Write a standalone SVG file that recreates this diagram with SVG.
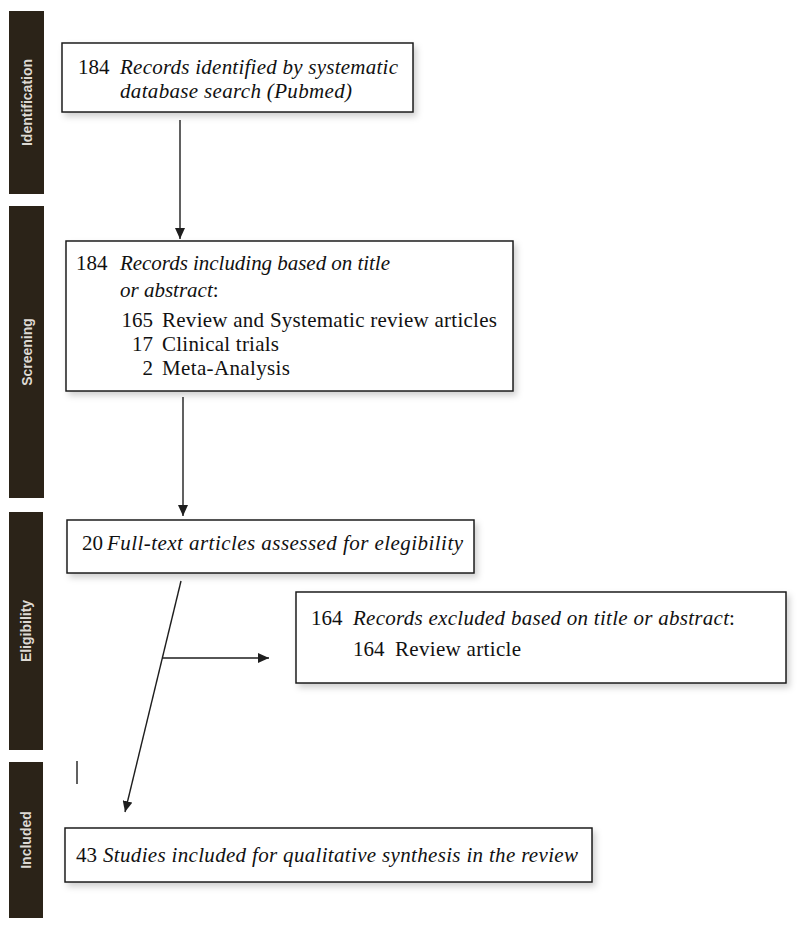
<svg xmlns="http://www.w3.org/2000/svg" width="800" height="936" viewBox="0 0 800 936">
<style>
.bar{fill:#2b2318;}
.barlbl{font-family:"Liberation Sans",Arial,sans-serif;font-weight:bold;font-size:14px;fill:#dedad4;text-anchor:middle;}
.box{fill:#fff;stroke:#1e1e1e;stroke-width:1.5;filter:url(#sh);}
.t{font-family:"Liberation Serif","Times New Roman",serif;font-size:21px;fill:#111;}
.i{font-style:italic;}
.r{text-anchor:end;}
.con{stroke:#1e1e1e;stroke-width:1.4;fill:none;}
</style>
<defs>
<filter id="sh" x="-5%" y="-20%" width="110%" height="150%">
<feDropShadow dx="3" dy="4" stdDeviation="3" flood-color="#000" flood-opacity="0.18"/>
</filter>
<marker id="ah" markerUnits="userSpaceOnUse" markerWidth="11" markerHeight="10" refX="11" refY="5" orient="auto">
<path d="M0,0 L11,5 L0,10 z" fill="#1e1e1e"/>
</marker>
</defs>
<rect width="800" height="936" fill="#fff"/>

<g id="phase-identification">
<rect class="bar" x="9" y="11" width="35" height="183"/>
<text class="barlbl" transform="translate(32,102.5) rotate(-90)">Identification</text>
</g>
<g id="phase-screening">
<rect class="bar" x="9" y="206" width="35" height="292"/>
<text class="barlbl" transform="translate(32,352) rotate(-90)">Screening</text>
</g>
<g id="phase-eligibility">
<rect class="bar" x="9" y="512" width="34" height="238"/>
<text class="barlbl" transform="translate(31,631) rotate(-90)">Eligibility</text>
</g>
<g id="phase-included">
<rect class="bar" x="9" y="762" width="34" height="156"/>
<text class="barlbl" transform="translate(31,840) rotate(-90)">Included</text>
</g>

<g id="connectors">
<line class="con" x1="180" y1="120" x2="180" y2="239" marker-end="url(#ah)"/>
<line class="con" x1="183" y1="397" x2="183" y2="516" marker-end="url(#ah)"/>
<line class="con" x1="181" y1="581" x2="125" y2="812" marker-end="url(#ah)"/>
<line class="con" x1="162" y1="658" x2="269" y2="658" marker-end="url(#ah)"/>
<line class="con" x1="77" y1="761" x2="77" y2="784"/>
</g>

<g id="node-identified">
<rect class="box" x="62" y="43" width="351" height="69"/>
<text class="t" x="78" y="74">184</text>
<text class="t i" x="120" y="74" textLength="278">Records identified by systematic</text>
<text class="t i" x="120" y="98" textLength="232">database search (Pubmed)</text>
</g>

<g id="node-screening">
<rect class="box" x="66" y="241" width="447" height="150"/>
<text class="t" x="76" y="270">184</text>
<text class="t i" x="120" y="270" textLength="270">Records including based on title</text>
<text class="t" x="120" y="297"><tspan class="i">or abstract</tspan>:</text>
<text class="t r" x="153" y="327">165</text>
<text class="t" x="162" y="327" textLength="335">Review and Systematic review articles</text>
<text class="t r" x="153" y="351">17</text>
<text class="t" x="162" y="351" textLength="117">Clinical trials</text>
<text class="t r" x="153" y="375">2</text>
<text class="t" x="162" y="375" textLength="128">Meta-Analysis</text>
</g>

<g id="node-fulltext">
<rect class="box" x="67" y="520" width="407" height="53"/>
<text class="t" x="82" y="550">20</text>
<text class="t i" x="107" y="550" textLength="356">Full-text articles assessed for elegibility</text>
</g>

<g id="node-excluded">
<rect class="box" x="296" y="592" width="490" height="91"/>
<text class="t" x="311" y="625">164</text>
<text class="t i" x="353" y="625" textLength="376">Records excluded based on title or abstract</text>
<text class="t" x="729" y="625">:</text>
<text class="t" x="353" y="656">164</text>
<text class="t" x="395" y="656" textLength="126">Review article</text>
</g>

<g id="node-included">
<rect class="box" x="65" y="828" width="527" height="54"/>
<text class="t" x="76" y="862">43</text>
<text class="t i" x="103" y="862" textLength="475">Studies included for qualitative synthesis in the review</text>
</g>
</svg>
